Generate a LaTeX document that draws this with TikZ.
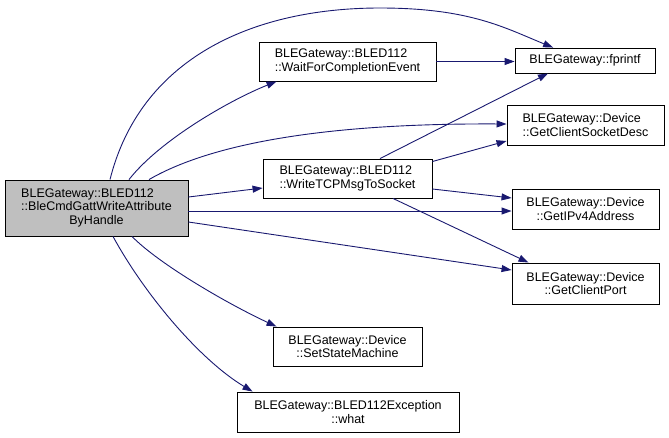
\documentclass[tikz,border=0pt]{standalone}
\usepackage{fontspec}
\setmainfont{Liberation Sans}
\usetikzlibrary{arrows.meta}

\definecolor{edgeblue}{HTML}{191970}
\definecolor{callergray}{HTML}{BFBFBF}

\begin{document}
\begin{tikzpicture}[x=1pt, y=-1pt,
    fnbox/.style={draw=black, line width=0.9pt, inner sep=0pt, font=\fontsize{12.5}{13.6}\selectfont},
    calledge/.style={draw=edgeblue, line width=0.9pt, -{Triangle[length=10pt, width=7pt]}}]
    \useasboundingbox (0,0) rectangle (669,437);

    % Caller
    \node[fnbox, fill=callergray, minimum width=183pt, minimum height=56pt] (main) at (96.5,208)
        {\begin{tabular}{@{}l@{}}BLEGateway::BLED112\\::BleCmdGattWriteAttribute\\\multicolumn{1}{@{}c@{}}{ByHandle}\end{tabular}};

    % Middle column
    \node[fnbox, align=left, minimum width=177pt, minimum height=39pt] (wait) at (347.5,61.5)
        {BLEGateway::BLED112\\::WaitForCompletionEvent};
    \node[fnbox, align=left, minimum width=169pt, minimum height=39pt] (write) at (347.5,178.5)
        {BLEGateway::BLED112\\::WriteTCPMsgToSocket};
    \node[fnbox, align=center, minimum width=149pt, minimum height=39pt] (ssm) at (347.5,346.5)
        {BLEGateway::Device\\::SetStateMachine};
    \node[fnbox, align=center, minimum width=222pt, minimum height=40pt] (what) at (348,412)
        {BLEGateway::BLED112Exception\\::what};

    % Right column
    \node[fnbox, minimum width=140pt, minimum height=25pt] (fprintf) at (585,60.5) {BLEGateway::fprintf};
    \node[fnbox, align=left, minimum width=157pt, minimum height=40pt] (gcsd) at (585.5,125)
        {BLEGateway::Device\\::GetClientSocketDesc};
    \node[fnbox, align=center, minimum width=147pt, minimum height=40pt] (ipv4) at (585.5,209)
        {BLEGateway::Device\\::GetIPv4Address};
    \node[fnbox, align=center, minimum width=147pt, minimum height=41pt] (gcp) at (585.5,283.5)
        {BLEGateway::Device\\::GetClientPort};

    % Calls from the caller
    \draw[calledge] ([xshift=13.5pt]main.north) .. controls (140,60) and (250,8) .. (380,8)
        .. controls (470,8) and (505,28) .. (fprintf);
    \draw[calledge] ([xshift=32.5pt]main.north) .. controls (160,140) and (230,100) .. ([xshift=18pt]wait.south west);
    \draw[calledge] ([xshift=52.5pt]main.north) .. controls (200,150) and (300,123) .. ([yshift=1pt]gcsd.west);
    \draw[calledge] ([yshift=11pt]main.east) -- ([yshift=-9.5pt]write.west);
    \draw[calledge] ([yshift=-3pt]main.east) -- ([yshift=-2pt]ipv4.west);
    \draw[calledge] ([yshift=-14pt]main.east) -- ([yshift=13.5pt]gcp.west);
    \draw[calledge] ([xshift=35.5pt]main.south) .. controls (160,265) and (230,305) .. ([xshift=4pt]ssm.north west);
    \draw[calledge] ([xshift=16.5pt]main.south) .. controls (145,295) and (200,360) .. ([xshift=16pt]what.north west);

    % Calls from the middle column
    \draw[calledge] (wait.east) -- (wait.east -| fprintf.west);
    \draw[calledge] ([xshift=32.5pt]write.north) -- ([xshift=-37pt]fprintf.south);
    \draw[calledge] ([yshift=17pt]write.east) -- ([yshift=-16pt]gcsd.west);
    \draw[calledge] ([yshift=-10.5pt]write.east) -- ([yshift=11pt]ipv4.west);
    \draw[calledge] ([xshift=45.5pt]write.south) -- ([xshift=-57pt]gcp.north);
\end{tikzpicture}
\end{document}
